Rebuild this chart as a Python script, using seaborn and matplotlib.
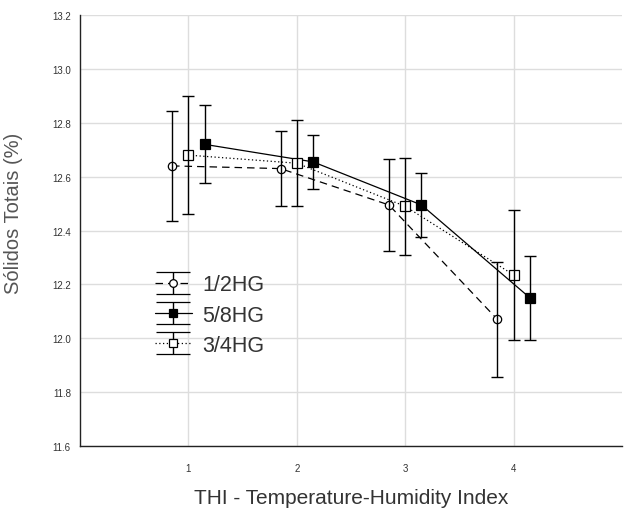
import numpy as np
import pandas as pd
import matplotlib
matplotlib.use('Agg')
import matplotlib.pyplot as plt
import seaborn as sns

# ================================
# Data
# ================================
thi = [1, 2, 3, 4]
groups = ['1/2HG', '5/8HG', '3/4HG']

mean_12 = [12.64, 12.63, 12.495, 12.07]
err_12 = [0.205, 0.14, 0.17, 0.215]

mean_58 = [12.72, 12.655, 12.495, 12.15]
err_58 = [0.145, 0.10, 0.12, 0.155]

mean_34 = [12.68, 12.65, 12.49, 12.235]
err_34 = [0.22, 0.16, 0.18, 0.24]

means = {'1/2HG': mean_12, '5/8HG': mean_58, '3/4HG': mean_34}
errs = {'1/2HG': err_12, '5/8HG': err_58, '3/4HG': err_34}

# ================================
# Style
# ================================
sns.set_style('whitegrid', {'grid.color': '#dddddd', 'axes.edgecolor': '#333333'})
plt.rcParams['font.family'] = ['Liberation Sans', 'DejaVu Sans']

offsets = {'1/2HG': -0.15, '5/8HG': 0.15, '3/4HG': 0.0}
linestyles = {'1/2HG': (0, (6, 4)), '5/8HG': '-', '3/4HG': (0, (1, 2))}
markers = {'1/2HG': 'o', '5/8HG': 's', '3/4HG': 's'}
facecolors = {'1/2HG': 'white', '5/8HG': 'black', '3/4HG': 'white'}
msizes = {'1/2HG': 6, '5/8HG': 6.8, '3/4HG': 6.8}

fig = plt.figure(figsize=(6.24, 5.1), dpi=100)
ax = fig.add_axes([0.128, 0.1235, 0.869, 0.845])

handles = []
for g in groups:
    df = pd.DataFrame({'x': np.array(thi) + offsets[g], 'y': means[g]})
    sns.lineplot(data=df, x='x', y='y', ax=ax, color='black', lw=0.9,
                 linestyle=linestyles[g], marker=markers[g], markersize=msizes[g],
                 markerfacecolor=facecolors[g], markeredgecolor='black',
                 markeredgewidth=0.9, legend=False)
    ax.errorbar(df['x'], df['y'], yerr=errs[g], fmt='none', ecolor='black',
                elinewidth=1.0, capsize=4, capthick=1.0)
    # legend proxy (nothing drawn on the axes)
    proxy = ax.errorbar([np.nan], [np.nan], yerr=[np.nan], color='black',
                        linestyle=linestyles[g], lw=0.9, marker=markers[g],
                        markersize=msizes[g] - 0.5, markerfacecolor=facecolors[g],
                        markeredgecolor='black', markeredgewidth=0.9,
                        ecolor='black', elinewidth=1.0, capsize=12, capthick=1.0)
    handles.append(proxy)

ax.set_xlim(0, 5)
ax.set_ylim(11.6, 13.2)
ax.set_xticks(thi)
yt = np.arange(11.6, 13.21, 0.2)
ax.set_yticks(yt)
ax.set_xticklabels([str(t) for t in thi])
ax.set_yticklabels([f'{v:.1f}' for v in yt])
ax.tick_params(axis='both', labelsize=7, colors='#333333', length=3, width=0.8)
ax.tick_params(axis='x', pad=9)
ax.grid(True, color='#dddddd', lw=1)

for s in ['top', 'right']:
    ax.spines[s].set_visible(False)
for s in ['left', 'bottom']:
    ax.spines[s].set_color('#222222')
    ax.spines[s].set_linewidth(1.0)

ax.set_xlabel('THI - Temperature-Humidity Index', fontsize=15, color='#333333')
ax.set_ylabel('Sólidos Totais (%)', fontsize=14.5, color='#555555')
ax.xaxis.set_label_coords(0.5, -0.098)
ax.yaxis.set_label_coords(-0.105, 0.543)

leg = ax.legend(handles, groups, loc='upper left', bbox_to_anchor=(0.122, 0.418),
                frameon=False, fontsize=15.5, handlelength=1.75, handletextpad=0.45,
                labelspacing=0.42, borderaxespad=0)
for t in leg.get_texts():
    t.set_color('#333333')

fig.savefig('out.png', dpi=100)
